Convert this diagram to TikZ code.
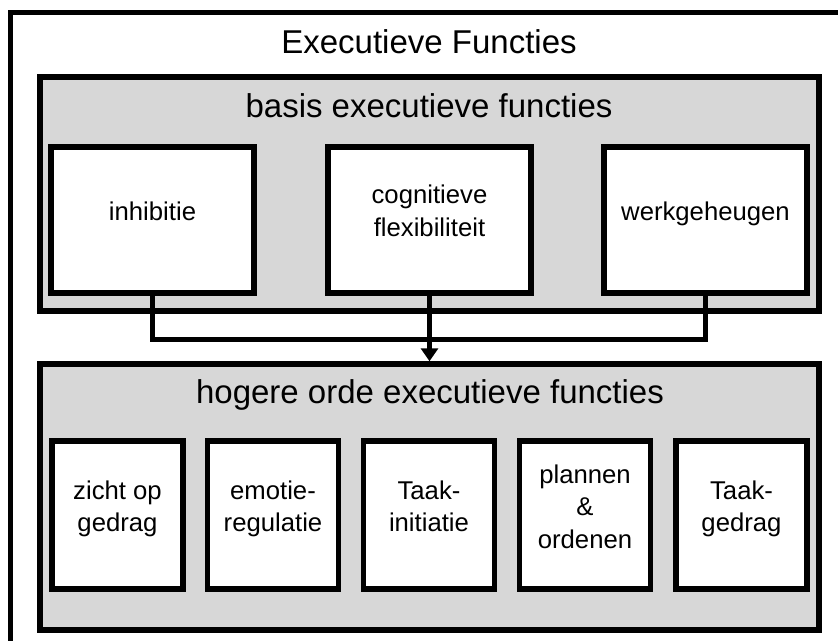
\documentclass[tikz,border=0pt]{standalone}
\usepackage{fontspec}
\setmainfont{Liberation Sans}
\usetikzlibrary{arrows.meta}
\definecolor{boxgray}{RGB}{215,215,215}
\begin{document}
\begin{tikzpicture}[
  x=1pt, y=-1pt,
  every node/.style={align=center, inner sep=0pt, outer sep=0pt},
  head/.style={font=\fontsize{33}{40}\selectfont, anchor=base},
  txt/.style={font=\fontsize{25.7}{32.5}\selectfont, execute at end node={\vphantom{g}}},
  group/.style={rectangle, draw=black, line width=5.5pt, fill=boxgray, minimum width=779pt},
  fbox/.style={rectangle, draw=black, line width=5.5pt, fill=white},
  basis/.style={fbox, minimum width=203pt, minimum height=146pt},
  hoger/.style={fbox, minimum width=131pt, minimum height=148pt},
  conn/.style={line width=5pt},
  arr/.style={conn, -{Triangle[width=17pt,length=13pt]}, shorten >=2.75pt}
]
% Omlijsting
\path[use as bounding box, clip] (0,0) rectangle (838,640);
\draw[line width=5.5pt] (10.5,12.5) rectangle (900,700);
\node[head] (titel) at (429,53) {Executieve Functies};

% Basis executieve functies
\node[group, minimum height=234pt] (basisgroep) at (429.5,194) {};
\node[head] (basis-t) at (429,117) {basis executieve functies};
\node[basis] (inh) at (152.5,220) {};
\node[txt] (inh-t) at ([yshift=6pt]inh.center) {inhibitie};
\node[basis] (cog) at (429.5,220) {};
\node[txt] (cog-t) at ([yshift=6.5pt]cog.center) {cognitieve\\flexibiliteit};
\node[basis] (werk) at (705.5,220) {};
\node[txt] (werk-t) at ([yshift=6pt]werk.center) {werkgeheugen};

% Hogere orde executieve functies
\node[group, minimum height=266pt] (hogergroep) at (429.5,497) {};
\node[head] (hoger-t) at (430,403) {hogere orde executieve functies};
\node[hoger] (zicht) at (117.5,515) {};
\node[txt] (zicht-t) at ([yshift=6pt]zicht.center) {zicht op\\gedrag};
\node[hoger] (emo) at (273,515) {};
\node[txt] (emo-t) at ([yshift=6pt]emo.center) {emotie-\\regulatie};
\node[hoger] (init) at (429,515) {};
\node[txt] (init-t) at ([yshift=6pt]init.center) {Taak-\\initiatie};
\node[hoger] (plan) at (585,515) {};
\node[txt] (plan-t) at ([yshift=6pt]plan.center) {plannen\\\&\\ordenen};
\node[hoger] (gedrag) at (741.5,515) {};
\node[txt] (gedrag-t) at ([yshift=6pt]gedrag.center) {Taak-\\gedrag};

% Verbindingen
\coordinate (knoop) at (429.5,339);
\draw[conn] (inh.south) |- (knoop) -| (werk.south);
\draw[arr] (cog.south) -- (hogergroep.north);
\end{tikzpicture}
\end{document}
